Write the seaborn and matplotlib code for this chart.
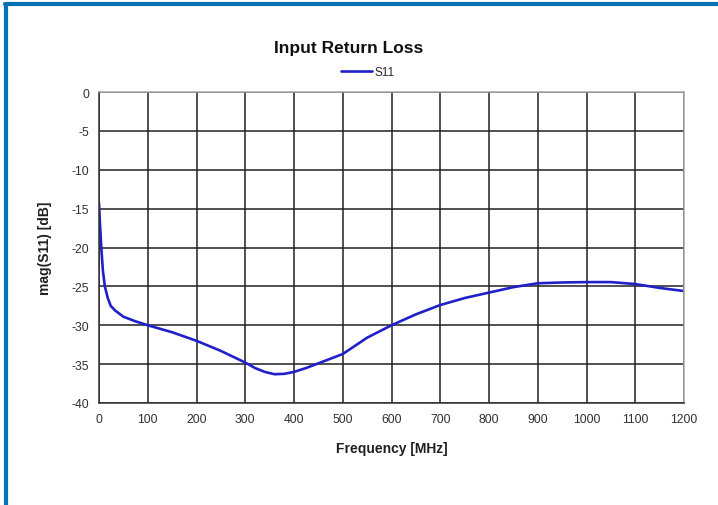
import pandas as pd
import matplotlib
matplotlib.use("Agg")
from matplotlib import pyplot as plt
from matplotlib.lines import Line2D
import seaborn as sns

# S11
freq_mhz = [0, 2, 5, 8, 12, 18, 24, 33, 50, 75, 100, 150, 200, 250, 300, 320, 340, 360,
            380, 400, 425, 450, 500, 550, 600, 650, 700, 750, 800, 850, 900, 950, 1000,
            1050, 1100, 1150, 1200]
s11_db = [-14.3, -17.0, -20.3, -23.0, -25.0, -26.5, -27.5, -28.1, -28.9, -29.5, -30.0,
          -30.9, -32.0, -33.3, -34.8, -35.5, -36.0, -36.3, -36.25, -36.0, -35.5, -34.9,
          -33.7, -31.6, -30.0, -28.6, -27.4, -26.5, -25.8, -25.1, -24.6, -24.5, -24.45,
          -24.45, -24.7, -25.2, -25.6]
x_ticks = list(range(0, 1201, 100))
y_ticks = list(range(-40, 1, 5))

df = pd.DataFrame({"Frequency [MHz]": freq_mhz, "mag(S11) [dB]": s11_db})

sns.set_theme(style="white")
plt.rcParams["font.family"] = ["Liberation Sans", "DejaVu Sans"]
plt.rcParams["axes.unicode_minus"] = False

fig = plt.figure(figsize=(7.18, 5.06), dpi=100)
ax = fig.add_axes([99 / 718, 1 - 404 / 506, 585 / 718, 311 / 506])

sns.lineplot(data=df, x="Frequency [MHz]", y="mag(S11) [dB]", ax=ax,
             color="#2020c8", linewidth=1.9, label="S11", legend=False)

ax.set_xlim(0, 1200)
ax.set_ylim(-40, 0)
ax.set_xticks(x_ticks)
ax.set_yticks(y_ticks)
ax.grid(True, color="#202020", linewidth=1.1)
ax.set_axisbelow(True)
for side in ["left", "bottom"]:
    ax.spines[side].set_color("#303030")
    ax.spines[side].set_linewidth(1.1)
for side in ["top", "right"]:
    ax.spines[side].set_color("#a8a8a8")
    ax.spines[side].set_linewidth(1.1)
ax.tick_params(axis="both", which="major", direction="out", length=4, width=1,
               color="#303030", labelsize=8.8, labelcolor="#303030", pad=3)

ax.set_xlabel("Frequency [MHz]", fontsize=10, fontweight="bold", color="#202020", labelpad=12)
ax.set_ylabel("mag(S11) [dB]", fontsize=10, fontweight="bold", color="#202020", labelpad=14)

fig.text(349 / 718, 1 - 48 / 506, "Input Return Loss", ha="center", va="center",
         fontsize=12.5, fontweight="bold", color="#101010")

handles, labels = ax.get_legend_handles_labels()
fig.legend(handles, labels, loc="center", bbox_to_anchor=(368 / 718, 1 - 73 / 506),
           frameon=False, fontsize=8.5, handlelength=2.6, handletextpad=0.2)

# blue frame visible at the left and top edges
fig.add_artist(Line2D([5.5 / 718, 5.5 / 718], [0, 1 - 4.5 / 506], transform=fig.transFigure,
                      color="#0a70b4", linewidth=3))
fig.add_artist(Line2D([4.5 / 718, 1], [1 - 4.5 / 506, 1 - 4.5 / 506], transform=fig.transFigure,
                      color="#0a70b4", linewidth=3))

fig.savefig("out.png", dpi=100)
